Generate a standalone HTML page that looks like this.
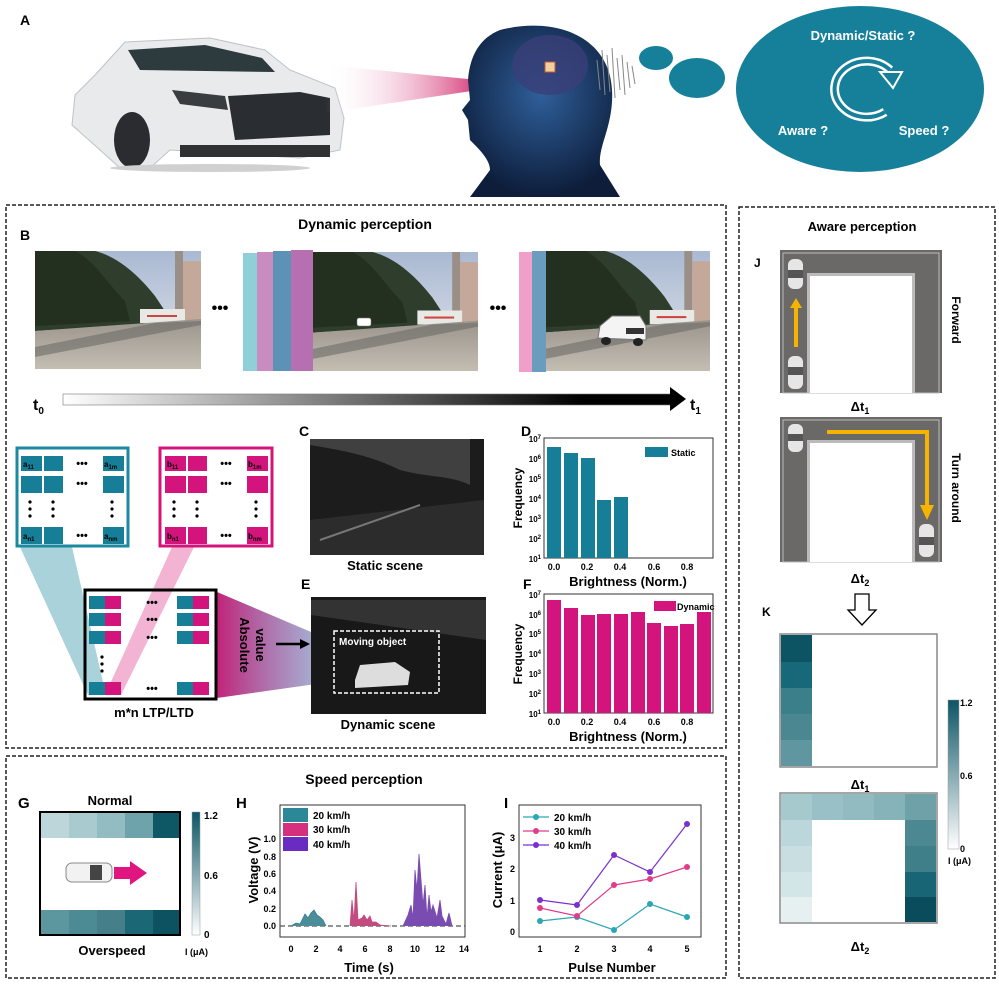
<!DOCTYPE html>
<html><head><meta charset="utf-8"><style>
html,body{margin:0;padding:0;background:#fff;}
svg{display:block;font-family:"Liberation Sans",sans-serif;}
.b{font-weight:bold;}
</style></head><body>
<svg width="999" height="984" viewBox="0 0 999 984" xmlns="http://www.w3.org/2000/svg">
<defs>
<linearGradient id="sk" x1="0" y1="0" x2="0" y2="1"><stop offset="0" stop-color="#a9b9d2"/><stop offset="1" stop-color="#e4e6ec"/></linearGradient>
<linearGradient id="gr" x1="0" y1="0" x2="0" y2="1"><stop offset="0" stop-color="#9a948c"/><stop offset="1" stop-color="#c4bdb2"/></linearGradient>
<symbol id="scene" viewBox="0 0 166 118" preserveAspectRatio="none">
<rect width="166" height="118" fill="url(#sk)"/>
<path d="M0,0 L60,0 C80,5 100,20 120,45 L130,60 L130,72 L0,80 Z" fill="#2f3d2c"/>
<path d="M0,0 L40,0 C60,10 70,30 90,50 L95,70 L0,75 Z" fill="#24301f"/>
<rect x="140" y="0" width="8" height="70" fill="#9a8f86"/>
<rect x="148" y="10" width="18" height="62" fill="#c4a89a"/>
<rect x="105" y="58" width="45" height="14" fill="#e8e8e4"/>
<rect x="112" y="64" width="30" height="2" fill="#c44"/>
<path d="M0,80 L166,68 L166,118 L0,118 Z" fill="url(#gr)"/>
<path d="M0,96 L120,72 L166,70 L166,74 L0,106 Z" fill="#6c6a68" opacity="0.6"/>
</symbol>
<linearGradient id="tb" x1="0" x2="1"><stop offset="0" stop-color="#fff"/><stop offset="0.85" stop-color="#000"/><stop offset="1" stop-color="#000"/></linearGradient>
<linearGradient id="beam" x1="0" x2="1"><stop offset="0" stop-color="#fff" stop-opacity="0"/><stop offset="1" stop-color="#d63c7a"/></linearGradient>
<linearGradient id="abs" x1="0" x2="1"><stop offset="0" stop-color="#c2237a"/><stop offset="1" stop-color="#6f8fc0" stop-opacity="0.6"/></linearGradient>
<radialGradient id="head" cx="0.5" cy="0.4" r="0.6"><stop offset="0" stop-color="#2f5f9a"/><stop offset="1" stop-color="#0d1d3a"/></radialGradient>
<linearGradient id="cb" x1="0" y1="1" x2="0" y2="0"><stop offset="0" stop-color="#ffffff"/><stop offset="1" stop-color="#0c5565"/></linearGradient>
</defs>

<!-- A -->
<text x="20" y="25" class="b" font-size="14">A</text>
<g>
<path d="M95,75 L125,42 L210,38 L265,50 L290,70 L335,88 L344,118 L340,150 L300,158 L170,150 L150,168 L120,168 L100,150 L72,125 L75,95 Z" fill="#e9eaec" stroke="#bfc2c6"/>
<path d="M128,50 L205,45 L262,58 L275,72 L140,70 Z" fill="#2d3a3e"/>
<path d="M228,96 L300,92 L330,98 L330,135 L235,140 Z" fill="#2a2d31"/>
<path d="M172,90 L225,96 L228,110 L180,104 Z" fill="#3a3d40"/>
<ellipse cx="132" cy="140" rx="18" ry="28" fill="#2a2c2f"/>
<rect x="180" y="145" width="150" height="12" fill="#2f3133"/>
<ellipse cx="210" cy="168" rx="100" ry="4" fill="#d0d0d0"/>
</g>
<polygon points="325,65 478,80 478,90 325,113" fill="url(#beam)"/>
<path d="M500,30 C560,15 610,40 612,90 C614,125 598,145 600,165 L620,197 L470,197 L490,170 C490,160 480,150 470,140 L468,120 L462,110 L470,100 L468,80 C470,55 480,38 500,30 Z" fill="url(#head)"/>
<ellipse cx="550" cy="65" rx="38" ry="30" fill="#3a3f78" opacity="0.8"/>
<rect x="545" y="62" width="10" height="10" fill="#f0d0a0" stroke="#c06030"/>
<g stroke="#888" stroke-width="1" fill="none">
<path d="M597,60 L600,90 M602,50 L605,95 M607,55 L610,92 M612,48 L615,98 M617,58 L620,90 M622,55 L625,95 M627,62 L630,88 M632,66 L635,84"/>
</g>
<ellipse cx="656" cy="58" rx="17" ry="12" fill="#167f9a"/>
<ellipse cx="697" cy="78" rx="28" ry="20" fill="#167f9a"/>
<ellipse cx="860" cy="89" rx="124" ry="83" fill="#167f9a"/>
<text x="863" y="40" text-anchor="middle" class="b" font-size="13" fill="#fff">Dynamic/Static ?</text>
<text x="803" y="135" text-anchor="middle" class="b" font-size="13" fill="#fff">Aware ?</text>
<text x="924" y="135" text-anchor="middle" class="b" font-size="13" fill="#fff">Speed ?</text>
<path d="M890,70 A32,28 0 1 0 885,112" fill="none" stroke="#fff" stroke-width="9"/>
<path d="M890,70 A32,28 0 1 0 885,112" fill="none" stroke="#167f9a" stroke-width="4"/>
<polygon points="880,72 902,72 893,88" fill="#167f9a" stroke="#fff" stroke-width="2"/>

<!-- B panel -->
<rect x="6" y="205" width="720" height="543" fill="none" stroke="#222" stroke-width="1.5" stroke-dasharray="4,2"/>
<text x="365" y="229" text-anchor="middle" class="b" font-size="14">Dynamic perception</text>
<text x="20" y="240" class="b" font-size="14">B</text>
<use href="#scene" x="35" y="251" width="166" height="118"/>
<text x="220" y="313" text-anchor="middle" class="b" font-size="16">•••</text>
<rect x="243" y="253" width="14" height="118" fill="#8ecfd8"/>
<rect x="257" y="252" width="16" height="119" fill="#c98cc0"/>
<rect x="273" y="251" width="18" height="120" fill="#5b92b5"/>
<rect x="291" y="250" width="22" height="121" fill="#b66fb0"/>
<use href="#scene" x="313" y="252" width="165" height="119"/>
<rect x="357" y="318" width="14" height="8" rx="2" fill="#fff" stroke="#777" stroke-width="0.5"/>
<text x="498" y="313" text-anchor="middle" class="b" font-size="16">•••</text>
<rect x="519" y="252" width="13" height="120" fill="#f0a0c8"/>
<rect x="532" y="251" width="14" height="121" fill="#6a9cc0"/>
<use href="#scene" x="546" y="251" width="164" height="120"/>
<path d="M598,338 L600,326 L612,316 L640,316 L646,326 L646,340 Z" fill="#f4f4f4" stroke="#777"/>
<rect x="626" y="328" width="18" height="6" fill="#333"/>
<ellipse cx="606" cy="341" rx="5" ry="4" fill="#222"/><ellipse cx="638" cy="342" rx="5" ry="4" fill="#222"/>
<rect x="63" y="394" width="612" height="11" fill="url(#tb)" stroke="#777" stroke-width="0.6"/>
<polygon points="670,387 686,399 670,411" fill="#000"/>
<text x="33" y="410" class="b" font-size="16">t<tspan font-size="10" dy="4">0</tspan></text>
<text x="690" y="410" class="b" font-size="16">t<tspan font-size="10" dy="4">1</tspan></text>

<polygon points="20,547 72,547 106,695 88,695" fill="#8cc3cf" opacity="0.75"/>
<polygon points="172,547 194,547 121,695 105,695" fill="#f0a0c8" opacity="0.8"/>
<polygon points="217,592 330,640 330,682 217,698" fill="url(#abs)"/>
<rect x="17" y="448" width="111" height="98" fill="#fff" stroke="#1a8aa0" stroke-width="3"/>
<g fill="#167e96">
<rect x="21" y="456" width="21" height="15"/><rect x="44" y="456" width="19" height="15"/><rect x="103" y="456" width="21" height="15"/>
<rect x="21" y="476" width="21" height="17"/><rect x="44" y="476" width="19" height="17"/><rect x="103" y="476" width="21" height="17"/>
<rect x="21" y="527" width="21" height="17"/><rect x="44" y="527" width="19" height="17"/><rect x="103" y="527" width="21" height="17"/>
</g>
<g font-size="8" class="b" fill="#000"><text x="23" y="467">a<tspan font-size="6" dy="2">11</tspan></text><text x="104" y="467">a<tspan font-size="6" dy="2">1m</tspan></text><text x="23" y="539">a<tspan font-size="6" dy="2">n1</tspan></text><text x="104" y="539">a<tspan font-size="6" dy="2">nm</tspan></text></g>
<g font-size="11" class="b" text-anchor="middle"><text x="82" y="467">•••</text><text x="82" y="487">•••</text><text x="82" y="539">•••</text></g>
<g fill="#000"><circle cx="30" cy="502" r="1.6"/><circle cx="30" cy="509" r="1.6"/><circle cx="30" cy="516" r="1.6"/><circle cx="53" cy="502" r="1.6"/><circle cx="53" cy="509" r="1.6"/><circle cx="53" cy="516" r="1.6"/><circle cx="112" cy="502" r="1.6"/><circle cx="112" cy="509" r="1.6"/><circle cx="112" cy="516" r="1.6"/></g>
<rect x="160" y="448" width="112" height="98" fill="#fff" stroke="#d4147d" stroke-width="3"/>
<g fill="#d4147d">
<rect x="165" y="456" width="21" height="15"/><rect x="188" y="456" width="19" height="15"/><rect x="247" y="456" width="21" height="15"/>
<rect x="165" y="476" width="21" height="17"/><rect x="188" y="476" width="19" height="17"/><rect x="247" y="476" width="21" height="17"/>
<rect x="165" y="527" width="21" height="17"/><rect x="188" y="527" width="19" height="17"/><rect x="247" y="527" width="21" height="17"/>
</g>
<g font-size="8" class="b" fill="#000"><text x="167" y="467">b<tspan font-size="6" dy="2">11</tspan></text><text x="248" y="467">b<tspan font-size="6" dy="2">1m</tspan></text><text x="167" y="539">b<tspan font-size="6" dy="2">n1</tspan></text><text x="248" y="539">b<tspan font-size="6" dy="2">nm</tspan></text></g>
<g font-size="11" class="b" text-anchor="middle"><text x="226" y="467">•••</text><text x="226" y="487">•••</text><text x="226" y="539">•••</text></g>
<g fill="#000"><circle cx="174" cy="502" r="1.6"/><circle cx="174" cy="509" r="1.6"/><circle cx="174" cy="516" r="1.6"/><circle cx="197" cy="502" r="1.6"/><circle cx="197" cy="509" r="1.6"/><circle cx="197" cy="516" r="1.6"/><circle cx="256" cy="502" r="1.6"/><circle cx="256" cy="509" r="1.6"/><circle cx="256" cy="516" r="1.6"/></g>
<rect x="85" y="590" width="131" height="109" fill="none" stroke="#000" stroke-width="3"/>
<g>
<rect x="89" y="596" width="16" height="13" fill="#167e96"/><rect x="105" y="596" width="16" height="13" fill="#d4147d"/>
<rect x="89" y="613" width="16" height="13" fill="#167e96"/><rect x="105" y="613" width="16" height="13" fill="#d4147d"/>
<rect x="89" y="631" width="16" height="13" fill="#167e96"/><rect x="105" y="631" width="16" height="13" fill="#d4147d"/>
<rect x="177" y="596" width="16" height="13" fill="#167e96"/><rect x="193" y="596" width="16" height="13" fill="#d4147d"/>
<rect x="177" y="613" width="16" height="13" fill="#167e96"/><rect x="193" y="613" width="16" height="13" fill="#d4147d"/>
<rect x="177" y="631" width="16" height="13" fill="#167e96"/><rect x="193" y="631" width="16" height="13" fill="#d4147d"/>
<rect x="89" y="682" width="16" height="13" fill="#167e96"/><rect x="105" y="682" width="16" height="13" fill="#d4147d"/>
<rect x="177" y="682" width="16" height="13" fill="#167e96"/><rect x="193" y="682" width="16" height="13" fill="#d4147d"/>
</g>
<g font-size="11" class="b" text-anchor="middle"><text x="152" y="606">•••</text><text x="152" y="623">•••</text><text x="152" y="641">•••</text><text x="152" y="692">•••</text></g>
<g fill="#000"><circle cx="102" cy="657" r="1.6"/><circle cx="102" cy="664" r="1.6"/><circle cx="102" cy="671" r="1.6"/></g>
<text x="154" y="717" text-anchor="middle" class="b" font-size="13">m*n LTP/LTD</text>
<text transform="translate(240,645) rotate(90)" text-anchor="middle" class="b" font-size="13">Absolute</text>
<text transform="translate(256,645) rotate(90)" text-anchor="middle" class="b" font-size="13">value</text>
<line x1="276" y1="644" x2="302" y2="644" stroke="#000" stroke-width="2.5"/>
<polygon points="300,639 310,644 300,649" fill="#000"/>

<text x="299" y="436" class="b" font-size="14">C</text>
<rect x="310" y="439" width="174" height="116" fill="#1c1c1c"/>
<path d="M310,445 C340,450 370,455 400,470 C430,478 450,475 470,485 L470,439 L310,439 Z" fill="#404040"/>
<path d="M310,520 L484,500 L484,555 L310,555 Z" fill="#2c2c2c"/>
<path d="M320,540 L420,505" stroke="#777" stroke-width="2"/>
<text x="385" y="570" text-anchor="middle" class="b" font-size="13">Static scene</text>
<text x="301" y="589" class="b" font-size="14">E</text>
<rect x="311" y="597" width="175" height="117" fill="#181818"/>
<path d="M311,600 L486,600 L486,640 L311,615 Z" fill="#333"/>
<rect x="334" y="631" width="105" height="62" fill="none" stroke="#fff" stroke-width="1.5" stroke-dasharray="4,2"/>
<text x="339" y="645" class="b" font-size="10" fill="#fff">Moving object</text>
<path d="M355,680 L360,665 L395,662 L410,672 L408,685 L355,688 Z" fill="#ddd"/>
<text x="388" y="729" text-anchor="middle" class="b" font-size="13">Dynamic scene</text>

<text x="521" y="436" class="b" font-size="14">D</text>
<rect x="544" y="438" width="169" height="120" fill="#fff" stroke="#333"/>
<g fill="#167e96">
<rect x="547" y="447" width="14" height="111"/>
<rect x="564" y="453" width="14" height="105"/>
<rect x="581" y="458" width="14" height="100"/>
<rect x="597" y="500" width="14" height="58"/>
<rect x="614" y="497" width="14" height="61"/>
</g>
<rect x="645" y="447" width="23" height="10" fill="#167e96"/>
<text x="671" y="456" class="b" font-size="9">Static</text>
<g font-size="8" class="b" text-anchor="end">
<text x="541" y="442">10<tspan font-size="6" dy="-3">7</tspan></text><text x="541" y="462">10<tspan font-size="6" dy="-3">6</tspan></text><text x="541" y="482">10<tspan font-size="6" dy="-3">5</tspan></text><text x="541" y="502">10<tspan font-size="6" dy="-3">4</tspan></text><text x="541" y="522">10<tspan font-size="6" dy="-3">3</tspan></text><text x="541" y="542">10<tspan font-size="6" dy="-3">2</tspan></text><text x="541" y="562">10<tspan font-size="6" dy="-3">1</tspan></text>
</g>
<g font-size="9" class="b" text-anchor="middle"><text x="554" y="570">0.0</text><text x="587" y="570">0.2</text><text x="620" y="570">0.4</text><text x="654" y="570">0.6</text><text x="687" y="570">0.8</text></g>
<text transform="translate(522,498) rotate(-90)" text-anchor="middle" class="b" font-size="12">Frequency</text>
<text x="628" y="586" text-anchor="middle" class="b" font-size="13">Brightness (Norm.)</text>
<text x="523" y="589" class="b" font-size="14">F</text>
<rect x="544" y="594" width="169" height="119" fill="#fff" stroke="#333"/>
<g fill="#d4147d">
<rect x="547" y="600" width="14" height="113"/>
<rect x="564" y="608" width="14" height="105"/>
<rect x="581" y="615" width="14" height="98"/>
<rect x="597" y="614" width="14" height="99"/>
<rect x="614" y="614" width="14" height="99"/>
<rect x="631" y="612" width="14" height="101"/>
<rect x="647" y="623" width="14" height="90"/>
<rect x="664" y="626" width="14" height="87"/>
<rect x="680" y="624" width="14" height="89"/>
<rect x="697" y="612" width="14" height="101"/>
</g>
<rect x="654" y="601" width="22" height="10" fill="#d4147d"/>
<text x="677" y="610" class="b" font-size="9">Dynamic</text>
<g font-size="8" class="b" text-anchor="end">
<text x="541" y="598">10<tspan font-size="6" dy="-3">7</tspan></text><text x="541" y="618">10<tspan font-size="6" dy="-3">6</tspan></text><text x="541" y="637">10<tspan font-size="6" dy="-3">5</tspan></text><text x="541" y="657">10<tspan font-size="6" dy="-3">4</tspan></text><text x="541" y="677">10<tspan font-size="6" dy="-3">3</tspan></text><text x="541" y="697">10<tspan font-size="6" dy="-3">2</tspan></text><text x="541" y="717">10<tspan font-size="6" dy="-3">1</tspan></text>
</g>
<g font-size="9" class="b" text-anchor="middle"><text x="554" y="725">0.0</text><text x="587" y="725">0.2</text><text x="620" y="725">0.4</text><text x="654" y="725">0.6</text><text x="687" y="725">0.8</text></g>
<text transform="translate(522,654) rotate(-90)" text-anchor="middle" class="b" font-size="12">Frequency</text>
<text x="628" y="741" text-anchor="middle" class="b" font-size="13">Brightness (Norm.)</text>

<rect x="6" y="756" width="720" height="222" fill="none" stroke="#222" stroke-width="1.5" stroke-dasharray="4,2"/>
<text x="364" y="784" text-anchor="middle" class="b" font-size="14">Speed perception</text>
<text x="18" y="808" class="b" font-size="15">G</text>
<text x="110" y="805" text-anchor="middle" class="b" font-size="13">Normal</text>
<rect x="40" y="812" width="140" height="123" fill="#fff" stroke="#000" stroke-width="2"/>
<rect x="41" y="813" width="28" height="25" fill="#bcd6da"/><rect x="69" y="813" width="28" height="25" fill="#a9cace"/><rect x="97" y="813" width="28" height="25" fill="#93bcc2"/><rect x="125" y="813" width="28" height="25" fill="#6fa3ab"/><rect x="153" y="813" width="26" height="25" fill="#0e5765"/>
<rect x="41" y="910" width="28" height="24" fill="#5c969f"/><rect x="69" y="910" width="28" height="24" fill="#4c8a94"/><rect x="97" y="910" width="28" height="24" fill="#457f89"/><rect x="125" y="910" width="28" height="24" fill="#1c6775"/><rect x="153" y="910" width="26" height="24" fill="#0c5260"/>
<rect x="66" y="863" width="46" height="19" rx="6" fill="#f2f2f2" stroke="#888"/>
<rect x="90" y="865" width="12" height="15" fill="#444"/>
<polygon points="114,867 130,867 130,861 147,873 130,885 130,879 114,879" fill="#e0157f"/>
<text x="112" y="955" text-anchor="middle" class="b" font-size="13">Overspeed</text>
<rect x="192" y="812" width="8" height="123" fill="url(#cb)" stroke="#999" stroke-width="0.5"/>
<g font-size="10" class="b"><text x="204" y="819">1.2</text><text x="204" y="879">0.6</text><text x="204" y="938">0</text><text x="185" y="955" font-size="9">I (μA)</text></g>

<text x="236" y="808" class="b" font-size="15">H</text>
<rect x="280" y="805" width="185" height="132" fill="#fff" stroke="#333"/>
<line x1="280" y1="926" x2="465" y2="926" stroke="#555" stroke-width="1.2" stroke-dasharray="5,3"/>
<polyline fill="#4b8d98" stroke="#2f7f8d" stroke-width="0.8" points="291,926 296,923 300,924 305,914 308,918 311,913 314,910 317,915 320,917 323,920 326,926"/>
<polyline fill="#c34b7f" stroke="#c34b7f" stroke-width="0.8" points="350,926 352,900 354,921 356,882 358,920 362,918 364,915 367,920 370,916 372,922 376,922 380,925 391,926"/>
<polyline fill="#7a4bb0" stroke="#7a4bb0" stroke-width="0.8" points="403,926 408,915 411,905 413,918 415,870 417,890 419,854 421,880 423,905 425,885 427,918 429,895 431,912 433,905 437,918 440,900 442,916 446,924 449,913 452,926"/>
<rect x="283" y="808" width="25" height="14" fill="#2a8898"/><rect x="283" y="823" width="25" height="13" fill="#d4307e"/><rect x="283" y="837" width="25" height="14" fill="#6a2bc0"/>
<g font-size="10" class="b"><text x="313" y="819">20 km/h</text><text x="313" y="833">30 km/h</text><text x="313" y="848">40 km/h</text></g>
<g font-size="9" class="b" text-anchor="end"><text x="276" y="929">0.0</text><text x="276" y="912">0.2</text><text x="276" y="894">0.4</text><text x="276" y="877">0.6</text><text x="276" y="860">0.8</text><text x="276" y="842">1.0</text></g>
<g font-size="9" class="b" text-anchor="middle"><text x="291" y="952">0</text><text x="316" y="952">2</text><text x="340" y="952">4</text><text x="365" y="952">6</text><text x="390" y="952">8</text><text x="415" y="952">10</text><text x="440" y="952">12</text><text x="464" y="952">14</text></g>
<text transform="translate(258,870) rotate(-90)" text-anchor="middle" class="b" font-size="13">Voltage (V)</text>
<text x="369" y="972" text-anchor="middle" class="b" font-size="13">Time (s)</text>

<text x="504" y="808" class="b" font-size="15">I</text>
<rect x="519" y="805" width="182" height="132" fill="#fff" stroke="#333"/>
<polyline fill="none" stroke="#2aa6b4" stroke-width="1.2" points="540,921 577,917 614,930 650,904 687,917"/>
<polyline fill="none" stroke="#e03c8a" stroke-width="1.2" points="540,908 577,916 614,885 650,879 687,867"/>
<polyline fill="none" stroke="#7a2fd0" stroke-width="1.2" points="540,900 577,905 614,855 650,872 687,824"/>
<g fill="#2aa6b4"><circle cx="540" cy="921" r="3"/><circle cx="577" cy="917" r="3"/><circle cx="614" cy="930" r="3"/><circle cx="650" cy="904" r="3"/><circle cx="687" cy="917" r="3"/></g>
<g fill="#e03c8a"><circle cx="540" cy="908" r="3"/><circle cx="577" cy="916" r="3"/><circle cx="614" cy="885" r="3"/><circle cx="650" cy="879" r="3"/><circle cx="687" cy="867" r="3"/></g>
<g fill="#7a2fd0"><circle cx="540" cy="900" r="3"/><circle cx="577" cy="905" r="3"/><circle cx="614" cy="855" r="3"/><circle cx="650" cy="872" r="3"/><circle cx="687" cy="824" r="3"/></g>
<line x1="523" y1="817" x2="549" y2="817" stroke="#2aa6b4" stroke-width="1.2"/><circle cx="536" cy="817" r="3" fill="#2aa6b4"/>
<line x1="523" y1="831" x2="549" y2="831" stroke="#e03c8a" stroke-width="1.2"/><circle cx="536" cy="831" r="3" fill="#e03c8a"/>
<line x1="523" y1="845" x2="549" y2="845" stroke="#7a2fd0" stroke-width="1.2"/><circle cx="536" cy="845" r="3" fill="#7a2fd0"/>
<g font-size="10" class="b"><text x="554" y="821">20 km/h</text><text x="554" y="835">30 km/h</text><text x="554" y="849">40 km/h</text></g>
<g font-size="9" class="b" text-anchor="end"><text x="515" y="935">0</text><text x="515" y="904">1</text><text x="515" y="872">2</text><text x="515" y="841">3</text></g>
<g font-size="9" class="b" text-anchor="middle"><text x="540" y="952">1</text><text x="577" y="952">2</text><text x="614" y="952">3</text><text x="650" y="952">4</text><text x="687" y="952">5</text></g>
<text transform="translate(502,870) rotate(-90)" text-anchor="middle" class="b" font-size="13">Current (μA)</text>
<text x="612" y="972" text-anchor="middle" class="b" font-size="13">Pulse Number</text>

<rect x="739" y="207" width="256" height="771" fill="none" stroke="#222" stroke-width="1.5" stroke-dasharray="4,2"/>
<text x="862" y="231" text-anchor="middle" class="b" font-size="13">Aware perception</text>
<text x="754" y="267" class="b" font-size="12">J</text>
<rect x="780" y="250" width="162" height="143" fill="#6b6868"/>
<rect x="783" y="253" width="156" height="140" fill="none" stroke="#bbb" stroke-width="1"/>
<rect x="807" y="273" width="108" height="120" fill="#bbb"/>
<rect x="810" y="276" width="102" height="117" fill="#fff"/>
<rect x="788" y="259" width="15" height="30" rx="6" fill="#e6e6e6"/><rect x="788" y="270" width="15" height="8" fill="#555"/>
<rect x="788" y="356" width="15" height="33" rx="6" fill="#e6e6e6"/><rect x="788" y="367" width="15" height="8" fill="#555"/>
<rect x="794" y="307" width="4" height="40" fill="#f5b400"/><polygon points="790,308 802,308 796,298" fill="#f5b400"/>
<text transform="translate(952,320) rotate(90)" text-anchor="middle" class="b" font-size="12">Forward</text>
<text x="860" y="411" text-anchor="middle" class="b" font-size="13">Δt<tspan font-size="9" dy="3">1</tspan></text>
<rect x="780" y="417" width="162" height="145" fill="#6b6868"/>
<rect x="783" y="420" width="156" height="142" fill="none" stroke="#bbb" stroke-width="1"/>
<rect x="807" y="440" width="108" height="122" fill="#bbb"/>
<rect x="810" y="443" width="102" height="119" fill="#fff"/>
<rect x="788" y="424" width="15" height="28" rx="6" fill="#e6e6e6"/><rect x="788" y="434" width="15" height="7" fill="#555"/>
<rect x="919" y="524" width="15" height="33" rx="6" fill="#e6e6e6"/><rect x="919" y="537" width="15" height="8" fill="#555"/>
<polyline points="827,432 927,432 927,507" fill="none" stroke="#f5b400" stroke-width="4"/>
<polygon points="920,505 934,505 927,520" fill="#f5b400"/>
<text transform="translate(952,488) rotate(90)" text-anchor="middle" class="b" font-size="12">Turn around</text>
<text x="860" y="583" text-anchor="middle" class="b" font-size="13">Δt<tspan font-size="9" dy="3">2</tspan></text>
<polygon points="855,594 869,594 869,610 876,610 862,625 848,610 855,610" fill="#fff" stroke="#000" stroke-width="1.3"/>
<text x="762" y="616" class="b" font-size="12">K</text>
<rect x="780" y="634" width="157" height="133" fill="#fff" stroke="#888" stroke-width="1.5"/>
<rect x="781" y="635" width="31" height="27" fill="#0c5363"/><rect x="781" y="662" width="31" height="26" fill="#17697a"/><rect x="781" y="688" width="31" height="26" fill="#3b7f8a"/><rect x="781" y="714" width="31" height="26" fill="#4a8790"/><rect x="781" y="740" width="31" height="26" fill="#5f969f"/>
<text x="860" y="789" text-anchor="middle" class="b" font-size="13">Δt<tspan font-size="9" dy="3">1</tspan></text>
<rect x="780" y="793" width="157" height="130" fill="#fff" stroke="#888" stroke-width="1.5"/>
<rect x="781" y="794" width="31" height="26" fill="#a6c9ce"/><rect x="812" y="794" width="31" height="26" fill="#98c0c6"/><rect x="843" y="794" width="31" height="26" fill="#92bbc1"/><rect x="874" y="794" width="31" height="26" fill="#86b2b9"/><rect x="905" y="794" width="31" height="26" fill="#6fa1a9"/>
<rect x="781" y="820" width="31" height="26" fill="#bcd7db"/><rect x="781" y="846" width="31" height="26" fill="#c8dee1"/><rect x="781" y="872" width="31" height="25" fill="#d2e5e7"/><rect x="781" y="897" width="31" height="25" fill="#e6f0f1"/>
<rect x="905" y="820" width="31" height="26" fill="#4c8891"/><rect x="905" y="846" width="31" height="26" fill="#3f7f89"/><rect x="905" y="872" width="31" height="25" fill="#176575"/><rect x="905" y="897" width="31" height="25" fill="#0a4c5b"/>
<text x="860" y="951" text-anchor="middle" class="b" font-size="13">Δt<tspan font-size="9" dy="3">2</tspan></text>
<rect x="948" y="700" width="11" height="149" fill="url(#cb)" stroke="#999" stroke-width="0.5"/>
<g font-size="9" class="b"><text x="960" y="706">1.2</text><text x="960" y="779">0.6</text><text x="960" y="852">0</text><text x="948" y="864">I (μA)</text></g>
</svg>
</body></html>
